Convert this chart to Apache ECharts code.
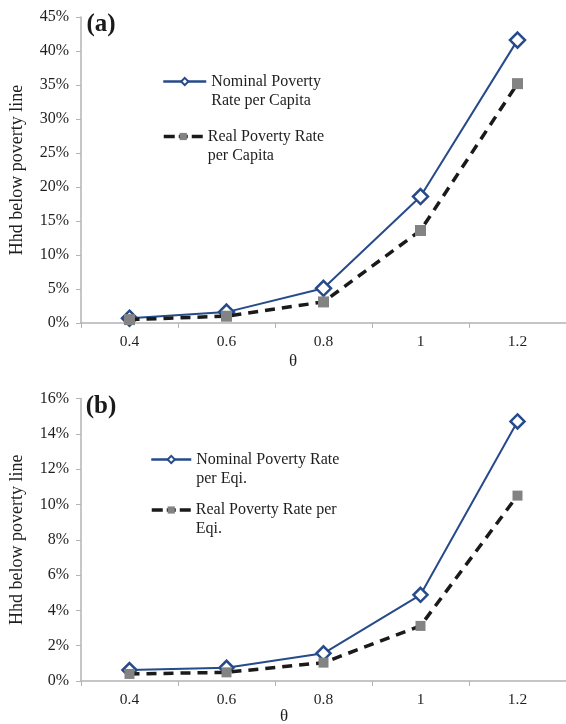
<!DOCTYPE html>
<html>
<head>
<meta charset="utf-8">
<script src="https://cdn.jsdelivr.net/npm/echarts@6/dist/echarts.min.js"></script>
<style>
html,body{margin:0;padding:0;background:#fff;}
#chart{width:566px;height:724px;}
</style>
</head>
<body>
<div id="chart"></div>
<script>
// ---- data ----
var thetaCategories = ['0.4', '0.6', '0.8', '1', '1.2'];
var nominalPerCapita = [0.7, 1.6, 5.1, 18.6, 41.6];
var realPerCapita = [0.5, 1.0, 3.1, 13.6, 35.2];
var nominalPerEqi = [0.62, 0.75, 1.57, 4.88, 14.7];
var realPerEqi = [0.4, 0.49, 1.04, 3.12, 10.5];
var yTicksTop = [0, 5, 10, 15, 20, 25, 30, 35, 40, 45];
var yTicksBottom = [0, 2, 4, 6, 8, 10, 12, 14, 16];
var panelLabels = ['(a)', '(b)'];
var yAxisTitle = 'Hhd below poverty line';
var xAxisTitle = 'θ';
var seriesNames = {
  nomA: 'Nominal Poverty Rate per Capita',
  realA: 'Real Poverty Rate per Capita',
  nomB: 'Nominal Poverty Rate per Eqi.',
  realB: 'Real Poverty Rate per Eqi.'
};
var legendText = {
  'Nominal Poverty Rate per Capita': 'Nominal Poverty\nRate per Capita',
  'Real Poverty Rate per Capita': 'Real Poverty Rate\nper Capita',
  'Nominal Poverty Rate per Eqi.': 'Nominal Poverty Rate\nper Eqi.',
  'Real Poverty Rate per Eqi.': 'Real Poverty Rate per\nEqi.'
};

// ---- styles ----
var FONT = '"Liberation Serif", "Times New Roman", serif';
var NAVY = '#264a8a';
var AXIS = '#b3b3b3';
var TXT = '#1e1e1e';

function xAxisCfg(gridIndex) {
  return {
    type: 'category', gridIndex: gridIndex, data: thetaCategories, boundaryGap: true,
    axisLine: { show: true, lineStyle: { color: AXIS, width: 1.5 } },
    axisTick: { show: true, length: 5, lineStyle: { color: AXIS } },
    axisLabel: { color: TXT, fontFamily: FONT, fontSize: 15.5, margin: 11 },
    splitLine: { show: false }
  };
}
function yAxisCfg(gridIndex, ticks) {
  var step = ticks[1] - ticks[0];
  return {
    type: 'value', gridIndex: gridIndex, min: ticks[0], max: ticks[ticks.length - 1], interval: step,
    name: yAxisTitle, nameLocation: 'middle', nameGap: 55, nameRotate: 90,
    nameTextStyle: { color: TXT, fontFamily: FONT, fontSize: 18 },
    axisLine: { show: true, lineStyle: { color: AXIS, width: 1.5 } },
    axisTick: { show: true, length: 5, lineStyle: { color: AXIS } },
    axisLabel: { color: TXT, fontFamily: FONT, fontSize: 16, margin: 12, formatter: '{value}%' },
    splitLine: { show: false }
  };
}
function nominalSeries(name, data, idx, size) {
  return {
    name: name, type: 'line', xAxisIndex: idx, yAxisIndex: idx, data: data,
    symbol: 'diamond', symbolSize: size, showAllSymbol: true,
    lineStyle: { color: NAVY, width: 2 },
    itemStyle: { color: '#ffffff', borderColor: NAVY, borderWidth: 2.5 },
    emphasis: { disabled: true }, animation: false, z: 2
  };
}
function realSeries(name, data, idx, size) {
  return {
    name: name, type: 'line', xAxisIndex: idx, yAxisIndex: idx, data: data,
    symbol: 'rect', symbolSize: size, showAllSymbol: true,
    lineStyle: { color: '#1a1a1a', width: 3.5, type: [10, 7] },
    itemStyle: { color: '#838383', borderWidth: 0 },
    emphasis: { disabled: true }, animation: false, z: 3
  };
}
function legendCfg(name, left, top, w, lineStyle) {
  return {
    data: [name], left: left, top: top, orient: 'vertical', padding: 0,
    itemWidth: w, itemHeight: 9, selectedMode: false,
    lineStyle: lineStyle,
    // leading blank line keeps the first text line level with the icon
    formatter: function (n) { return '\n' + legendText[n]; },
    textStyle: { color: TXT, fontFamily: FONT, fontSize: 16, lineHeight: 19 }
  };
}
var nomLegendLine = { color: NAVY, width: 2.5, type: 'solid' };
var realLegendLine = { color: '#1a1a1a', width: 3.5, type: [11, 4, 9, 4] };

var chart = echarts.init(document.getElementById('chart'), null, { renderer: 'canvas' });
chart.setOption({
  backgroundColor: '#ffffff',
  animation: false,
  grid: [
    { left: 76, right: -3, top: 17, bottom: 401 },
    { left: 76, right: -3, top: 398.5, bottom: 43 }
  ],
  xAxis: [xAxisCfg(0), xAxisCfg(1)],
  yAxis: [yAxisCfg(0, yTicksTop), yAxisCfg(1, yTicksBottom)],
  legend: [
    legendCfg(seriesNames.nomA, 162, 53, 43, nomLegendLine),
    legendCfg(seriesNames.realA, 162, 108, 39, realLegendLine),
    legendCfg(seriesNames.nomB, 150, 431, 40, nomLegendLine),
    legendCfg(seriesNames.realB, 150, 481.5, 39, realLegendLine)
  ],
  graphic: [
    { type: 'text', x: 101, y: 25, style: { text: panelLabels[0], font: 'bold 25px ' + FONT, fill: '#1a1a1a', align: 'center', verticalAlign: 'middle' } },
    { type: 'text', x: 101, y: 407, style: { text: panelLabels[1], font: 'bold 25px ' + FONT, fill: '#1a1a1a', align: 'center', verticalAlign: 'middle' } },
    { type: 'text', x: 293, y: 362, style: { text: xAxisTitle, font: '17px ' + FONT, fill: TXT, align: 'center', verticalAlign: 'middle' } },
    { type: 'text', x: 284, y: 717, style: { text: xAxisTitle, font: '17px ' + FONT, fill: TXT, align: 'center', verticalAlign: 'middle' } }
  ],
  series: [
    nominalSeries(seriesNames.nomA, nominalPerCapita, 0, 15),
    realSeries(seriesNames.realA, realPerCapita, 0, 11),
    nominalSeries(seriesNames.nomB, nominalPerEqi, 1, 14),
    realSeries(seriesNames.realB, realPerEqi, 1, 10)
  ]
});
</script>
</body>
</html>
